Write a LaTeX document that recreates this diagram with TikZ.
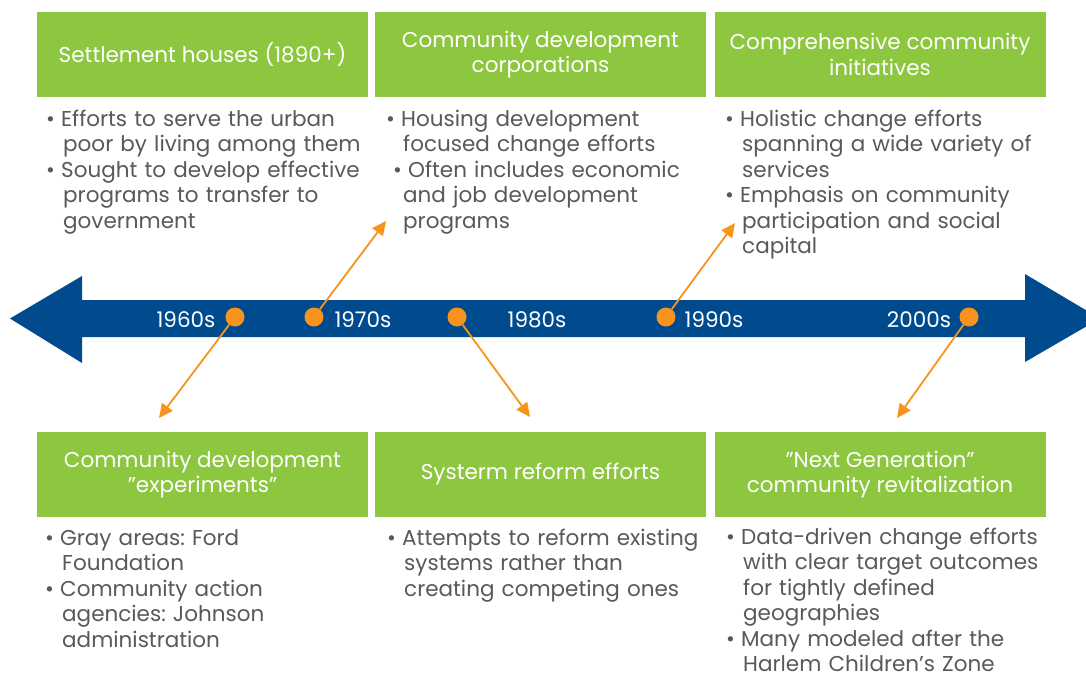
\documentclass[tikz,border=0pt]{standalone}
\usepackage{fontspec}
\setmainfont{Poppins}
\usetikzlibrary{arrows.meta}
\frenchspacing
\definecolor{barblue}{HTML}{004B8D}
\definecolor{boxgreen}{HTML}{8DC63F}
\definecolor{dotorange}{HTML}{F7941D}
\definecolor{textgray}{HTML}{58595B}
\newcommand{\bitem}[2][0pt]{\par{\let\\\newline\hangindent=17pt\hangafter=1\noindent\hspace*{#1}\makebox[15pt][l]{\textbullet}#2\par}}

\begin{document}
\begin{tikzpicture}[
        x=1pt,y=-1pt,
        titlebox/.style={fill=boxgreen,text=white,minimum width=331pt,minimum height=85pt,inner sep=0pt,align=center,font=\fontsize{21.5}{25.5}\selectfont},
        bullets/.style={anchor=north west,text=textgray,text width=340pt,text depth=0pt,align=left,inner sep=0pt,font=\fontsize{21.5}{25.5}\selectfont},
        yearlabel/.style={anchor=base,text=white,inner sep=0pt,font=\fontsize{21.5}{24}\selectfont},
        dot/.style={circle,fill=dotorange,inner sep=0pt,minimum size=19pt},
        link/.style={draw=dotorange,line width=1.8pt,-{Triangle[length=14pt,width=13pt]}}
    ]
        \clip (0,0) rectangle (1086,675);
        \fill[white] (0,0) rectangle (1086,675);

        \fill[barblue] (10,318.5) -- (82,276) -- (82,300) -- (1025,300) -- (1025,274) -- (1100,318.5)
            -- (1025,362) -- (1025,337) -- (82,337) -- (82,363) -- cycle;

        \node [titlebox] (t1890) at (202.5,54.5) {Settlement houses (1890+)};
        \node [titlebox] (t1970) at (540.5,54.5) {Community development\\corporations};
        \node [titlebox] (t1990) at (880,54.5)   {Comprehensive community\\initiatives};
        \node [titlebox] (t1960) at (202.5,474.5) {Community development\\"experiments"};
        \node [titlebox] (t1980) at (540.5,474.5) {Systerm reform efforts};
        \node [titlebox] (t2000) at (880,474.5)   {"Next Generation"\\community revitalization};

        \node [bullets] (b1890) at (46,100) {\bitem{Efforts to serve the urban\\poor by living among them}
            \bitem{Sought to develop effective\\programs to transfer to\\government}};
        \node [bullets] (b1970) at (386,100) {\bitem{Housing development\\focused change efforts}
            \bitem[7pt]{Often includes economic\\and job development\\programs}};
        \node [bullets] (b1990) at (725,100) {\bitem{Holistic change efforts\\spanning a wide variety of\\services}
            \bitem{Emphasis on community\\participation and social\\capital}};
        \node [bullets] (b1960) at (45,519) {\bitem{Gray areas: Ford\\Foundation}
            \bitem{Community action\\agencies: Johnson\\administration}};
        \node [bullets] (b1980) at (387,519) {\bitem{Attempts to reform existing\\systems rather than\\creating competing ones}};
        \node [bullets] (b2000) at (726,518) {\bitem{Data-driven change efforts\\with clear target outcomes\\for tightly defined\\geographies}
            \bitem{Many modeled after the\\Harlem Children’s Zone}};

        \node [yearlabel] (y1960) at (186,327) {1960s};
        \node [yearlabel] (y1970) at (363,327) {1970s};
        \node [yearlabel] (y1980) at (537,327) {1980s};
        \node [yearlabel] (y1990) at (714,327) {1990s};
        \node [yearlabel] (y2000) at (919,327) {2000s};

        \node [dot] (d1960) at (235,317) {};
        \node [dot] (d1970) at (314,317) {};
        \node [dot] (d1980) at (457,317) {};
        \node [dot] (d1990) at (666,317) {};
        \node [dot] (d2000) at (969,317) {};

        \coordinate (a1960) at (159,418);
        \coordinate (a1970) at (386,221);
        \coordinate (a1980) at (530,417);
        \coordinate (a1990) at (735,223);
        \coordinate (a2000) at (897,418);

        \draw [link] (d1960) -- (a1960);
        \draw [link] (d1970) -- (a1970);
        \draw [link] (d1980) -- (a1980);
        \draw [link] (d1990) -- (a1990);
        \draw [link] (d2000) -- (a2000);
    \end{tikzpicture}
\end{document}
